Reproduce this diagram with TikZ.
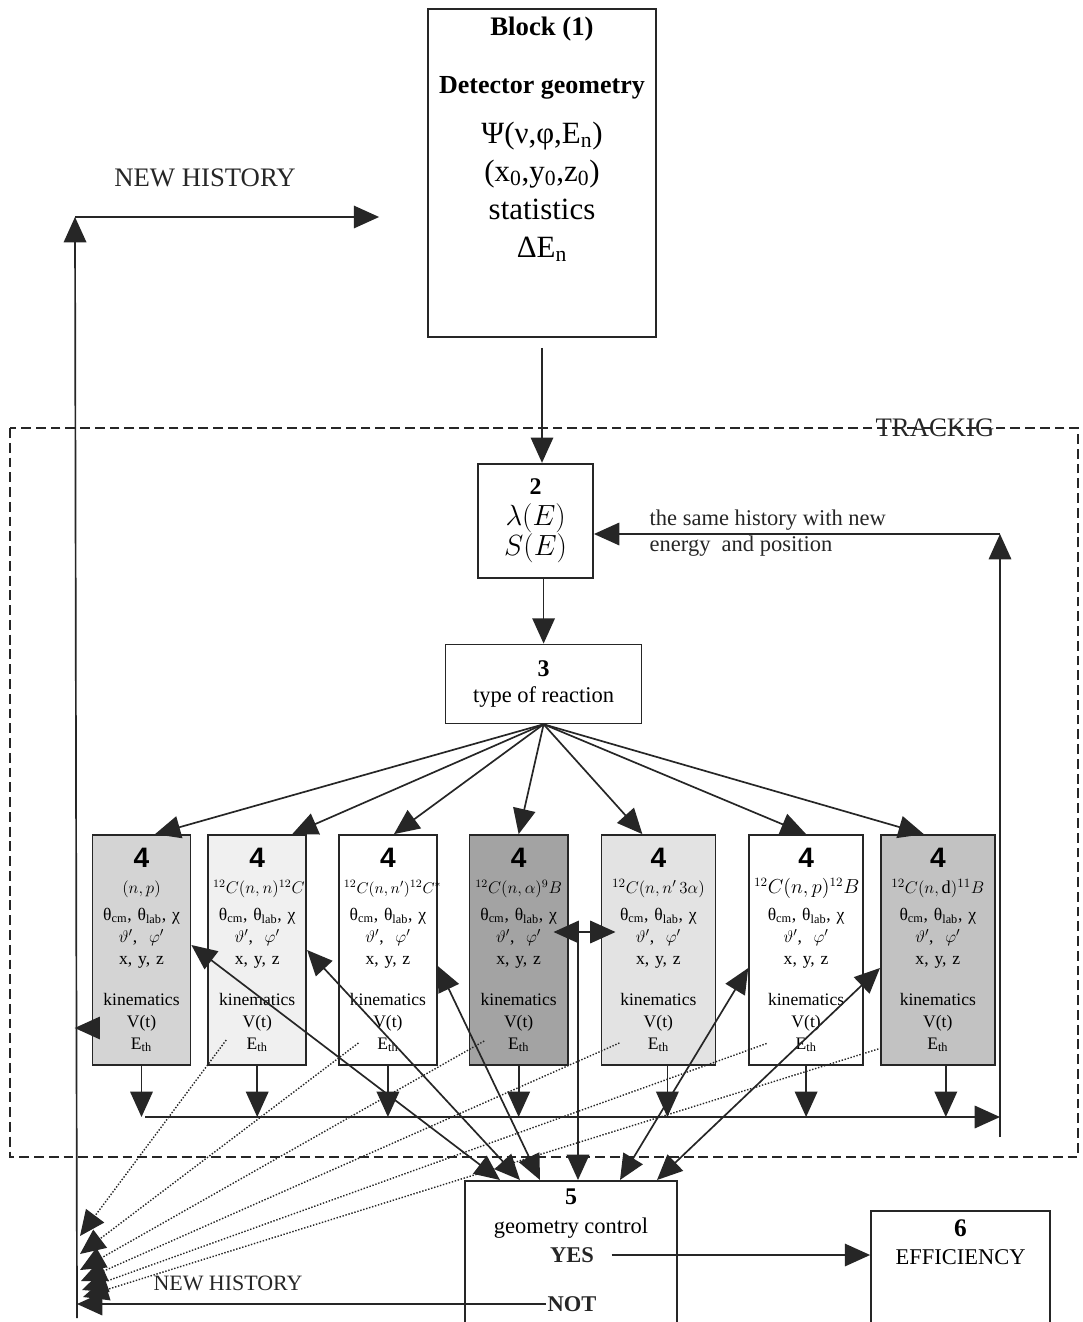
\documentclass[tikz,border=0pt]{standalone}
\usepackage{fontspec}
\setmainfont{Liberation Serif}
\setsansfont{Liberation Sans}
\usetikzlibrary{positioning, arrows.meta}

\definecolor{ink}{gray}{0.15}
\definecolor{shadeA}{gray}{0.83}
\definecolor{shadeB}{gray}{0.94}
\definecolor{shadeC}{gray}{0.64}
\definecolor{shadeD}{gray}{0.89}
\definecolor{shadeE}{gray}{0.76}

% body of every reaction box
\newcommand{\boxtext}[2][12.5]{{\sffamily\bfseries\fontsize{20}{20}\selectfont 4}\\[3pt]
{\fontsize{#1}{16}\selectfont #2}\\[3.5pt]
θ\textsubscript{cm}, θ\textsubscript{lab}, χ\\
$\vartheta'$,\ \ $\varphi'$\\
x, y, z\\[13.5pt]
kinematics\\
V(t)\\
E\textsubscript{th}}

\begin{document}
\begin{tikzpicture}[
x=0.025cm, y=-0.025cm,
>={Triangle[length=18pt,width=16pt]},
blk/.style={rectangle,
  draw=ink,
  line width=1.2pt,
  align=center,
  inner sep=3pt,
},
nbox/.style={blk,
  minimum width=2.45cm,
  minimum height=5.75cm,
  text width=2.2cm,
  font=\fontsize{12.5}{15.6}\selectfont,
},
wbox/.style={nbox, minimum width=2.85cm, text width=2.6cm},
conn/.style={draw=ink, line width=1.2pt},
dot/.style={draw=ink, line width=1pt, dash pattern=on 1pt off 1.2pt},
lab/.style={inner sep=1pt, text=ink, font=\fontsize{19}{22}\selectfont},
]
\useasboundingbox (0,0) rectangle (1083,1322);
\clip (0,0) rectangle (1083,1322);
\fill[white] (0,0) rectangle (1083,1322);

% tracking frame
\draw[ink, line width=1pt, dash pattern=on 7pt off 3.5pt] (10,428) rectangle (1078,1157);
\node[lab] (trk) at (935,428) {TRACKIG};

% blocks
\node[blk, anchor=north, minimum width=5.7cm, inner ysep=6pt,
  font=\fontsize{22}{27}\selectfont] (blk1) at (542,8)
    {{\bfseries\fontsize{19}{22}\selectfont Block (1)}\\[14pt]
     {\bfseries\fontsize{18.5}{22}\selectfont Detector geometry}\\[8.5pt]
     Ψ(ν,φ,E\textsubscript{n})\\
     (x\textsubscript{0},y\textsubscript{0},z\textsubscript{0})\\
     statistics\\
     ΔE\textsubscript{n}\rule[-1.78cm]{0pt}{0pt}};
\node[blk, below=3.125cm of blk1, xshift=-0.16cm, minimum width=2.875cm, minimum height=2.85cm,
  font=\fontsize{20}{21}\selectfont] (blk2)
    {{\bfseries\fontsize{17}{21}\selectfont 2}\\[1pt] $\lambda(E)$\\ $S(E)$};
\node[blk, below=1.625cm of blk2, xshift=0.2cm, minimum width=4.9cm, minimum height=1.975cm,
  font=\fontsize{16}{19}\selectfont] (blk3)
    {{\bfseries\fontsize{17}{19}\selectfont 3}\\ type of reaction};

\node[nbox, fill=shadeA] (b1) at (141.5,950) {\boxtext[13]{$(n,p)$}};
\node[nbox, fill=shadeB, right=0.4cm of b1] (b2) {\boxtext[12]{$^{12}C(n,n)^{12}C$}};
\node[nbox, fill=white, right=0.775cm of b2] (b3) {\boxtext[11]{$^{12}C(n,n')^{12}C^{*}$}};
\node[nbox, fill=shadeC, right=0.775cm of b3] (b4) {\boxtext[12]{$^{12}C(n,\alpha)^{9}B$}};
\node[wbox, fill=shadeD, right=0.8cm of b4] (b5) {\boxtext[13]{$^{12}C(n,n'\,3\alpha)$}};
\node[wbox, fill=white, right=0.8cm of b5] (b6) {\boxtext[13.5]{$^{12}C(n,p)^{12}B$}};
\node[wbox, fill=shadeE, right=0.4cm of b6] (b7) {\boxtext[13]{$^{12}C(n,\mathrm{d})^{11}B$}};

\node[blk, anchor=north, minimum width=5.3cm, inner ysep=6pt,
  font=\fontsize{16}{20}\selectfont] (blk5) at (571,1180)
    {{\bfseries\fontsize{17}{20}\selectfont 5}\\ geometry control\rule[-4cm]{0pt}{0pt}};
\node[lab, font=\bfseries\fontsize{16}{19}\selectfont] (yes) at (572,1255) {YES};
\node[lab, font=\bfseries\fontsize{16}{19}\selectfont] (not) at (572,1304) {NOT};
\node[blk, anchor=north, minimum width=4.475cm, inner ysep=6pt,
  font=\fontsize{16}{20}\selectfont] (blk6) at (960.5,1210)
    {{\bfseries\fontsize{18}{20}\selectfont 6}\\ EFFICIENCY\rule[-4cm]{0pt}{0pt}};

\node[lab] (nh1) at (205,178) {NEW HISTORY};
\node[lab, font=\fontsize{15.6}{19}\selectfont] (nh2) at (228,1283) {NEW HISTORY};
\node[lab, anchor=west, align=left, font=\fontsize{16}{19}\selectfont] (same) at (648,533)
    {the same history with new\\energy\ \ and position};

% coordinates
\coordinate (lt) at (75,217);
\coordinate (lb) at (77,1318);
\coordinate (bus) at (145,1117);
\coordinate (busR) at (1000,1117);
\coordinate (retB) at (1000,1137);
\coordinate (retT) at (1000,534);
\coordinate (hub) at (578,932);
\coordinate (h1) at (80,1236);
\coordinate (h2) at (80,1254);
\coordinate (h3) at (80,1270);
\coordinate (h4) at (81,1281);
\coordinate (h5) at (82,1290);
\coordinate (h6) at (83,1297);

% main chain
\draw[conn,->] (lb) -- (lt);
\draw[conn,->,shorten >=1.2cm] (lt) -- (lt -| blk1.west);
\draw[conn,->] ([yshift=-0.25cm]blk1.south) -- (blk1.south |- blk2.north);
\draw[conn,->] (blk3.north |- blk2.south) -- (blk3.north);

\draw[conn,->] (blk3.south) -- ([shift={(13.5,0)}]b1.north);
\draw[conn,->] (blk3.south) -- ([shift={(35,0)}]b2.north);
\draw[conn,->] (blk3.south) -- ([shift={(6,0)}]b3.north);
\draw[conn,->] (blk3.south) -- (b4.north);
\draw[conn,->] (blk3.south) -- ([shift={(-16,0)}]b5.north);
\draw[conn,->] (blk3.south) -- (b6.north);
\draw[conn,->] (blk3.south) -- ([shift={(-14,0)}]b7.north);

% collector and return
\draw[conn,->] (b1.south) -- (b1.south |- bus);
\draw[conn,->] (b2.south) -- (b2.south |- bus);
\draw[conn,->] (b3.south) -- (b3.south |- bus);
\draw[conn,->] (b4.south) -- (b4.south |- bus);
\draw[conn,->] ([xshift=0.225cm]b5.south) -- ([xshift=0.225cm]b5.south |- bus);
\draw[conn,->] (b6.south) -- (b6.south |- bus);
\draw[conn,->] ([xshift=0.2cm]b7.south) -- ([xshift=0.2cm]b7.south |- bus);
\draw[conn,->] (bus) -- (busR);
\draw[conn,->] (retB) -- (retT);
\draw[conn,->] (retT) -- (retT -| blk2.east);

% geometry control links
\draw[conn,<->] ([shift={(0,-5)}]b1.east) -- ([shift={(-71,0)}]blk5.north);
\draw[conn,<->] (b2.east) -- ([shift={(-51,0)}]blk5.north);
\draw[conn,<->] ([shift={(0,16)}]b3.east) -- ([shift={(-31,0)}]blk5.north);
\draw[conn,<->] ([shift={(-15,-18)}]b4.east) -- ([shift={(15,-18)}]b5.west);
\draw[conn,->] (hub) -- (hub |- blk5.north);
\draw[conn,<->] ([shift={(0,18)}]b6.west) -- ([shift={(49,0)}]blk5.north);
\draw[conn,<->] ([shift={(0,18)}]b7.west) -- ([shift={(86,0)}]blk5.north);

% lost histories
\draw[conn,->] (b1.west) ++(0,78) -- ++(-17,0);
\draw[dot,->] ([shift={(-31,90)}]b2.center) -- (h1);
\draw[dot,->] ([shift={(-29.5,93)}]b3.center) -- (h2);
\draw[dot,->] ([shift={(-34.5,91)}]b4.center) -- (h3);
\draw[dot,->] ([shift={(-39,93)}]b5.center) -- (h4);
\draw[dot,->] ([shift={(-39.5,93.5)}]b6.center) -- (h5);
\draw[dot,->] ([shift={(-56.5,98)}]b7.center) -- (h6);

\draw[conn,->,shorten <=0.4cm] (yes.east) -- (yes.east -| blk6.west);
\draw[conn,->] (not.west) -- (not.west -| lb);
\end{tikzpicture}
\end{document}
